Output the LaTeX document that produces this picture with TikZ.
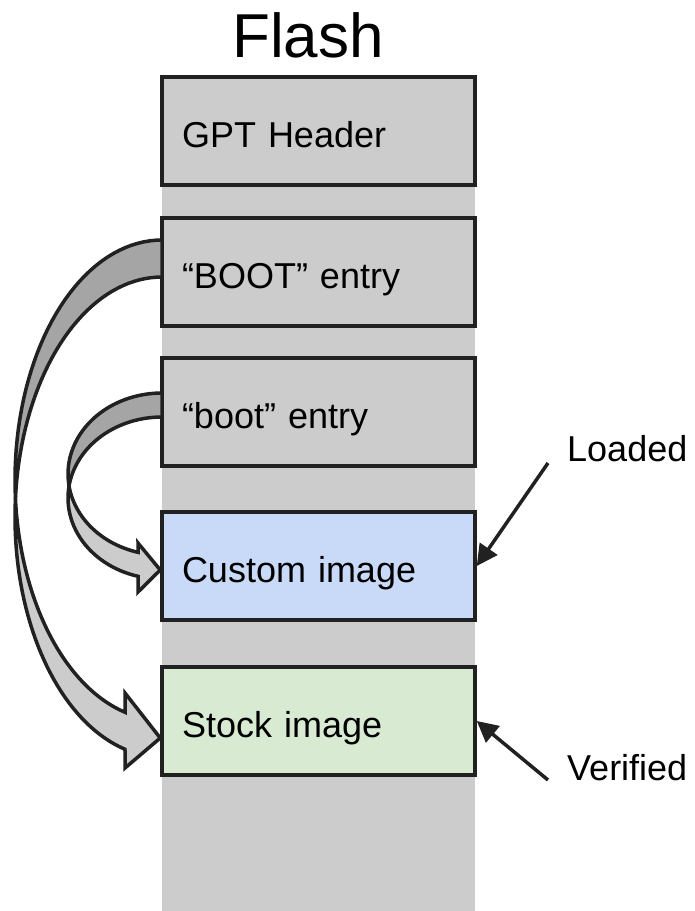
\documentclass[tikz,border=0pt]{standalone}
\usepackage{fontspec}
\setmainfont{Liberation Sans}
\usepackage{tikz}
\usetikzlibrary{arrows.meta}

\definecolor{flashgray}{HTML}{CCCCCC}
\definecolor{backgray}{HTML}{A5A5A5}
\definecolor{edge}{HTML}{212121}
\definecolor{customblue}{HTML}{C9DAF8}
\definecolor{stockgreen}{HTML}{D9EAD3}

\tikzset{
  part/.style={draw=edge,line width=3.5pt,fill=flashgray,minimum width=313pt,minimum height=108pt,text width=273pt,inner xsep=20pt,align=left,text height=32pt,text depth=0pt,font=\fontsize{36}{42}\selectfont},
  label/.style={inner sep=0pt,anchor=west,font=\fontsize{36}{42}\selectfont},
  band/.style={draw=edge,line width=3.5pt,fill=flashgray},
  pointer/.style={draw=edge,line width=3.5pt,-{Triangle[length=21pt,width=21pt]}}
}

\begin{document}
\begin{tikzpicture}[x=1pt,y=-1pt]

\useasboundingbox (0,0) rectangle (695,911);

\fill [flashgray] (162,78) rectangle (475,911);

\node (flash) at (308,35) {\fontsize{62}{70}\selectfont Flash};

\node [part] (gpt) at (318.5,131) {GPT Header};
\node [part] (bootA) at (318.5,272) {“BOOT” entry};
\node [part] (bootB) at (318.5,412) {“boot” entry};
\node [part,fill=customblue] (custom) at (318.5,566) {Custom image};
\node [part,fill=stockgreen] (stock) at (318.5,721) {Stock image};

% big curved arrow, BOOT entry to stock image
\draw [band,fill=backgray] plot[domain=90:184.42,samples=40] ({162+147*cos(\x)},{480-240*sin(\x)})
  -- plot[domain=175.58:90,samples=40] ({162+147*cos(\x)},{517-240*sin(\x)}) -- cycle;
\draw [band] plot[domain=175.58:255.42,samples=40] ({162+147*cos(\x)},{517-240*sin(\x)})
  -- (125,768) -- (stock.west |- 0,738) -- (125,693)
  -- plot[domain=255.42:184.42,samples=40] ({162+147*cos(\x)},{480-240*sin(\x)}) -- cycle;

% small curved arrow, boot entry to custom image
\draw [band,fill=backgray] plot[domain=90:188.41,samples=30] ({162+94*cos(\x)},{474-81*sin(\x)})
  -- plot[domain=171.59:90,samples=30] ({162+94*cos(\x)},{498-81*sin(\x)}) -- cycle;
\draw [band] plot[domain=171.59:255.21,samples=30] ({162+94*cos(\x)},{498-81*sin(\x)})
  -- (138,592) -- (custom.west |- 0,570) -- (138,543)
  -- plot[domain=255.21:188.41,samples=30] ({162+94*cos(\x)},{474-81*sin(\x)}) -- cycle;

\node [label] (loaded) at (567,449) {Loaded};
\node [label] (verified) at (567,768) {Verified};

\coordinate (loadedTail) at (548,463);
\coordinate (verifiedTail) at (548,780);

\draw [pointer] (loadedTail) -- (custom.east);
\draw [pointer] (verifiedTail) -- (stock.east);

\end{tikzpicture}
\end{document}
